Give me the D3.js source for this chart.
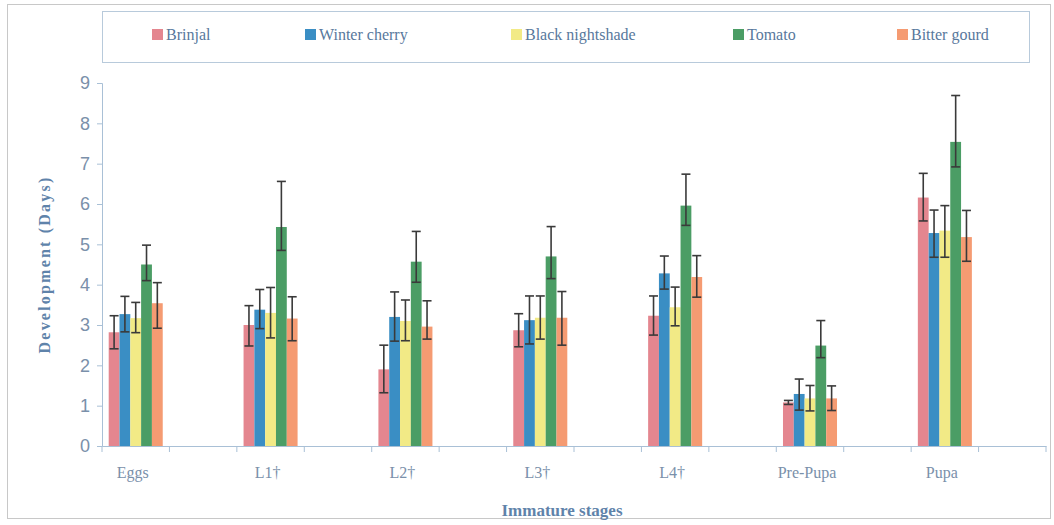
<!DOCTYPE html>
<html>
<head>
<meta charset="utf-8">
<script src="https://cdn.jsdelivr.net/npm/d3@7"></script>
<style>
  body { margin: 0; background: #fff; }
</style>
</head>
<body>
<script>
const width = 1054;
const height = 525;

// categories (blank slots sit between stages, as in the original sheet)
const stages = ["Eggs", "L1†", "L2†", "L3†", "L4†", "Pre-Pupa", "Pupa"];
const series = ["Brinjal", "Winter cherry", "Black nightshade", "Tomato", "Bitter gourd"];
const colors = ["#e4868f", "#3a8ec4", "#f2ea86", "#4b9d65", "#f59b72"];

// mean development time (days), one array per host plant
const brinjal = [2.82, 3.0, 1.9, 2.87, 3.23, 1.08, 6.16];
const winterCherry = [3.27, 3.38, 3.2, 3.12, 4.28, 1.29, 5.28];
const blackNightshade = [3.17, 3.3, 3.1, 3.18, 3.44, 1.18, 5.34];
const tomato = [4.5, 5.43, 4.57, 4.7, 5.96, 2.49, 7.54];
const bitterGourd = [3.54, 3.16, 2.96, 3.18, 4.19, 1.18, 5.18];

// error bar half-lengths, upper and lower
const errUp = [
  [0.41, 0.48, 0.6, 0.41, 0.49, 0.05, 0.6],
  [0.44, 0.5, 0.62, 0.6, 0.43, 0.37, 0.57],
  [0.39, 0.63, 0.52, 0.54, 0.5, 0.32, 0.62],
  [0.48, 1.13, 0.75, 0.74, 0.78, 0.62, 1.15],
  [0.51, 0.54, 0.64, 0.65, 0.53, 0.31, 0.66]
];
const errDown = [
  [0.41, 0.52, 0.58, 0.41, 0.48, 0.05, 0.58],
  [0.44, 0.47, 0.6, 0.59, 0.39, 0.4, 0.6],
  [0.36, 0.62, 0.49, 0.53, 0.46, 0.31, 0.66],
  [0.4, 0.58, 0.51, 0.55, 0.49, 0.3, 0.62],
  [0.62, 0.55, 0.31, 0.68, 0.5, 0.3, 0.6]
];

const yTicks = [0, 1, 2, 3, 4, 5, 6, 7, 8, 9];

const values = [brinjal, winterCherry, blackNightshade, tomato, bitterGourd];

const slots = [];
stages.forEach((s, i) => { slots.push(s); slots.push("gap" + i); });

const axisColor = "#a9c0d6";
const tickText = "#7a90aa";
const titleColor = "#5f83aa";
const serif = "'Liberation Serif', 'Times New Roman', serif";

const svg = d3.select("body").append("svg")
  .attr("width", width)
  .attr("height", height);

// outer frame
svg.append("rect")
  .attr("x", 7.5).attr("y", 4.5)
  .attr("width", 1043).attr("height", 514)
  .attr("fill", "none")
  .attr("stroke", "#c8c8c8");

const x = d3.scaleBand().domain(slots).range([102, 1046]);
const x1 = d3.scaleBand().domain(series).range([0, x.bandwidth()]).paddingOuter(0.62);
const y = d3.scaleLinear().domain([0, 9]).range([446, 83]);

// y axis
const yAxis = svg.append("g")
  .attr("transform", `translate(${x.range()[0]},0)`)
  .call(d3.axisLeft(y).tickValues(yTicks).tickSize(5).tickPadding(7));
yAxis.select(".domain").attr("stroke", axisColor);
yAxis.selectAll(".tick line").attr("stroke", axisColor);
yAxis.selectAll(".tick text")
  .attr("fill", tickText)
  .style("font-family", "'Liberation Sans', Arial, sans-serif")
  .style("font-size", "18px");

// x axis
const xAxis = svg.append("g")
  .attr("transform", `translate(0,${y(0)})`)
  .call(d3.axisBottom(x).tickValues([]).tickSizeOuter(0));
xAxis.select(".domain").attr("stroke", axisColor);
xAxis.selectAll(".bound")
  .data(d3.range(slots.length + 1))
  .join("line")
  .attr("x1", (d) => x.range()[0] + d * x.step())
  .attr("x2", (d) => x.range()[0] + d * x.step())
  .attr("y1", 0)
  .attr("y2", 6)
  .attr("stroke", axisColor);

xAxis.selectAll(".lab")
  .data(stages)
  .join("text")
  .attr("x", (d) => x(d) + x.bandwidth() / 2 - 3)
  .attr("y", 32)
  .attr("text-anchor", "middle")
  .attr("fill", tickText)
  .style("font-family", serif)
  .style("font-size", "16px")
  .text((d) => d);

// bars
const groups = svg.append("g")
  .selectAll("g")
  .data(stages)
  .join("g")
  .attr("transform", (d) => `translate(${x(d)},0)`);

groups.selectAll("rect")
  .data((d, i) => series.map((s, j) => ({ s, j, v: values[j][i] })))
  .join("rect")
  .attr("x", (d) => x1(d.s))
  .attr("y", (d) => y(d.v))
  .attr("width", x1.bandwidth())
  .attr("height", (d) => y(0) - y(d.v))
  .attr("fill", (d) => colors[d.j]);

// error bars
const eb = groups.selectAll(".err")
  .data((d, i) => series.map((s, j) => ({
    s, v: values[j][i], hi: values[j][i] + errUp[j][i], lo: values[j][i] - errDown[j][i]
  })))
  .join("g")
  .attr("stroke", "#3a3a3a")
  .attr("stroke-width", 1.6);

eb.append("line")
  .attr("x1", (d) => x1(d.s) + x1.bandwidth() / 2)
  .attr("x2", (d) => x1(d.s) + x1.bandwidth() / 2)
  .attr("y1", (d) => y(d.hi))
  .attr("y2", (d) => y(d.lo));
eb.append("line")
  .attr("x1", (d) => x1(d.s) + x1.bandwidth() / 2 - 4.5)
  .attr("x2", (d) => x1(d.s) + x1.bandwidth() / 2 + 4.5)
  .attr("y1", (d) => y(d.hi))
  .attr("y2", (d) => y(d.hi));
eb.append("line")
  .attr("x1", (d) => x1(d.s) + x1.bandwidth() / 2 - 4.5)
  .attr("x2", (d) => x1(d.s) + x1.bandwidth() / 2 + 4.5)
  .attr("y1", (d) => y(d.lo))
  .attr("y2", (d) => y(d.lo));

// axis titles
svg.append("text")
  .attr("transform", `translate(50,${(y(0) + y(9)) / 2}) rotate(-90)`)
  .attr("text-anchor", "middle")
  .attr("fill", titleColor)
  .style("font-family", serif)
  .style("font-size", "16px")
  .style("font-weight", "bold")
  .style("letter-spacing", "2.2px")
  .text("Development (Days)");

svg.append("text")
  .attr("x", 562)
  .attr("y", 516)
  .attr("text-anchor", "middle")
  .attr("fill", titleColor)
  .style("font-family", serif)
  .style("font-size", "17px")
  .style("font-weight", "bold")
  .text("Immature stages");

// legend
svg.append("rect")
  .attr("x", 102.5).attr("y", 11.5)
  .attr("width", 927).attr("height", 51)
  .attr("fill", "none")
  .attr("stroke", "#b8cadb");

const legendX = [152, 305, 511, 733, 897];
const legend = svg.append("g")
  .selectAll("g")
  .data(series)
  .join("g")
  .attr("transform", (d, i) => `translate(${legendX[i]},29)`);
legend.append("rect")
  .attr("width", 11).attr("height", 11)
  .attr("fill", (d, i) => colors[i]);
legend.append("text")
  .attr("x", 14)
  .attr("y", 11)
  .attr("fill", "#58789c")
  .style("font-family", serif)
  .style("font-size", "16px")
  .text((d) => d);
</script>
</body>
</html>
